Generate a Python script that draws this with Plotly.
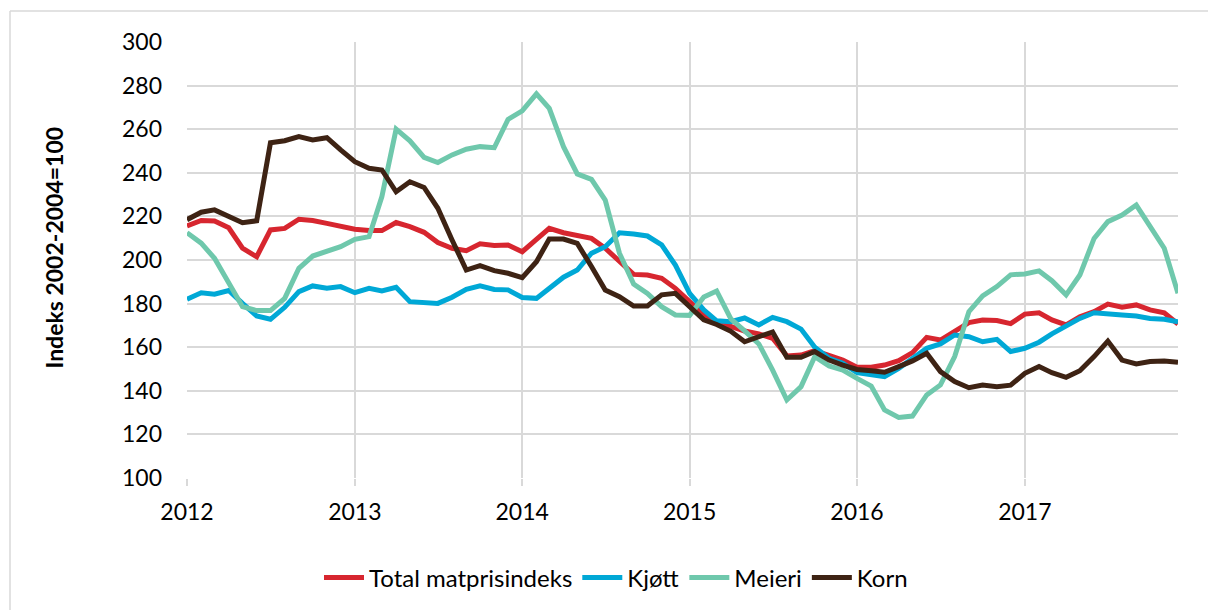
import pandas as pd
import plotly.graph_objects as go

# Monthly data Jan 2012 - Dec 2017
months = pd.date_range("2012-01-01", periods=72, freq="MS")

total = [215.6, 218.1, 217.9, 214.8, 205.4, 201.5, 213.8, 214.5, 218.7, 218.1, 216.8, 215.3,
         214.1, 213.5, 213.5, 217.2, 215.3, 212.7, 208.0, 205.4, 204.3, 207.4, 206.7, 206.9,
         203.8, 209.5, 214.5, 212.5, 211.5, 209.9, 205.4, 199.2, 193.4, 193.1, 191.6, 187.0,
         180.6, 174.8, 171.7, 169.4, 167.4, 166.1, 164.1, 156.0, 156.4, 158.4, 156.4, 154.1,
         150.8, 150.8, 151.8, 153.8, 157.5, 164.5, 163.3, 167.1, 171.3, 172.5, 172.2, 170.8,
         175.2, 175.8, 172.5, 170.2, 174.0, 176.3, 179.8, 178.3, 179.4, 177.1, 175.8, 170.6]

kjott = [182.0, 185.0, 184.3, 186.0, 180.1, 174.3, 172.8, 178.3, 185.5, 188.1, 187.0, 187.8,
         185.0, 187.0, 185.8, 187.5, 180.9, 180.4, 180.1, 182.9, 186.5, 188.1, 186.5, 186.3,
         182.8, 182.4, 187.0, 192.1, 195.4, 203.1, 206.1, 212.5, 211.9, 211.0, 206.9, 197.7,
         184.7, 177.1, 172.1, 171.7, 173.4, 170.2, 173.7, 171.7, 168.3, 160.0, 154.9, 152.6,
         148.3, 147.2, 146.5, 150.3, 154.9, 159.5, 161.5, 165.6, 164.8, 162.5, 163.6, 158.0,
         159.5, 162.3, 166.1, 169.7, 173.2, 175.8, 175.5, 174.8, 174.3, 173.2, 172.8, 171.7]

meieri = [212.5, 207.7, 200.8, 189.3, 178.6, 176.8, 176.8, 182.4, 196.2, 201.8, 203.8, 206.1,
          209.5, 210.7, 229.1, 260.0, 254.7, 247.1, 244.7, 248.2, 250.8, 252.0, 251.5, 264.5,
          268.4, 276.2, 269.6, 252.0, 239.5, 237.0, 227.5, 203.1, 189.0, 184.7, 178.6, 174.8,
          174.6, 183.0, 185.8, 173.0, 167.5, 161.5, 149.5, 135.8, 141.9, 155.7, 151.4, 149.5,
          145.7, 142.2, 131.2, 127.8, 128.4, 138.1, 142.7, 155.7, 176.3, 183.5, 187.8, 193.2,
          193.6, 195.0, 190.5, 184.0, 193.1, 209.9, 217.6, 220.6, 225.2, 215.3, 205.4, 184.7]

korn = [218.5, 221.9, 223.0, 219.9, 217.1, 218.0, 253.8, 254.7, 256.6, 255.1, 256.1, 250.5,
        245.1, 242.1, 241.3, 231.3, 235.9, 233.3, 223.7, 209.2, 195.4, 197.4, 195.1, 193.9,
        191.9, 199.2, 209.6, 209.6, 207.6, 197.0, 186.2, 183.2, 178.9, 178.9, 184.0, 184.7,
        178.6, 172.6, 170.4, 167.3, 162.5, 164.8, 167.0, 155.4, 155.4, 158.0, 154.1, 151.8,
        149.8, 149.2, 148.5, 151.1, 153.7, 157.2, 148.8, 144.2, 141.4, 142.6, 141.9, 142.6,
        148.0, 151.1, 148.3, 146.2, 149.2, 155.7, 162.8, 154.1, 152.3, 153.4, 153.7, 153.1]

series_names = ["Total matprisindeks", "Kjøtt", "Meieri", "Korn"]
series_values = [total, kjott, meieri, korn]
series_colors = ["#D7262F", "#00A8D6", "#6FC8AC", "#3E2314"]

year_ticks = ["2012", "2013", "2014", "2015", "2016", "2017"]

FONT = "Lato"
GRID = "#D9D9D9"

W, H = 1208, 610

# plot area in page pixels (for converting the outer frame lines to paper coordinates)
PX0, PX1, PY0, PY1 = 187, 1178, 42, 478


def px_x(p):
    return (p - PX0) / (PX1 - PX0)


def px_y(p):
    return (PY1 - p) / (PY1 - PY0)


fig = go.Figure()
for name, vals, col in zip(series_names, series_values, series_colors):
    fig.add_trace(go.Scatter(x=months, y=vals, name=name, mode="lines",
                             line=dict(color=col, width=5)))

fig.update_layout(
    width=W, height=H,
    margin=dict(l=PX0, r=W - PX1, t=PY0, b=H - PY1),
    paper_bgcolor="white", plot_bgcolor="white",
    font=dict(family=FONT, size=23, color="#000000"),
    showlegend=True,
    legend=dict(orientation="h", xref="container", yref="container",
                x=616 / W, xanchor="center",
                y=1 - 578 / H, yanchor="middle",
                font=dict(family=FONT, size=24, color="#000000"),
                itemwidth=40, tracegroupgap=0),
    xaxis=dict(
        type="date",
        range=[months[0], months[-1]],
        tickvals=[pd.Timestamp(f"{y}-01-01") for y in year_ticks],
        ticktext=year_ticks,
        showgrid=True, gridcolor=GRID, gridwidth=1.5,
        ticks="outside", ticklen=7, tickcolor=GRID, tickwidth=1.5,
        showline=False, zeroline=False,
        ticklabelstandoff=6,
        tickfont=dict(family=FONT, size=23, color="#000000"),
    ),
    yaxis=dict(
        range=[100, 300], dtick=20, tick0=100,
        showgrid=True, gridcolor=GRID, gridwidth=1.5,
        zeroline=False, showline=False, ticks="",
        ticklabelstandoff=24,
        tickfont=dict(family=FONT, size=23, color="#000000"),
    ),
    annotations=[dict(
        text="<b>Indeks 2002-2004=100</b>", textangle=-90,
        xref="paper", yref="paper", x=px_x(53), y=px_y(247.5),
        xanchor="center", yanchor="middle", showarrow=False,
        font=dict(family=FONT, size=23, color="#000000"),
    )],
    shapes=[
        dict(type="line", xref="paper", yref="paper",
             x0=px_x(10), x1=px_x(1208), y0=px_y(11), y1=px_y(11),
             line=dict(color=GRID, width=1.5), layer="below"),
        dict(type="line", xref="paper", yref="paper",
             x0=px_x(10), x1=px_x(10), y0=px_y(11), y1=px_y(610),
             line=dict(color=GRID, width=1.5), layer="below"),
    ],
)

fig.write_html("out.html",
               config={"displayModeBar": False},
               post_script="document.body.style.margin='0';document.body.style.overflow='hidden';")
